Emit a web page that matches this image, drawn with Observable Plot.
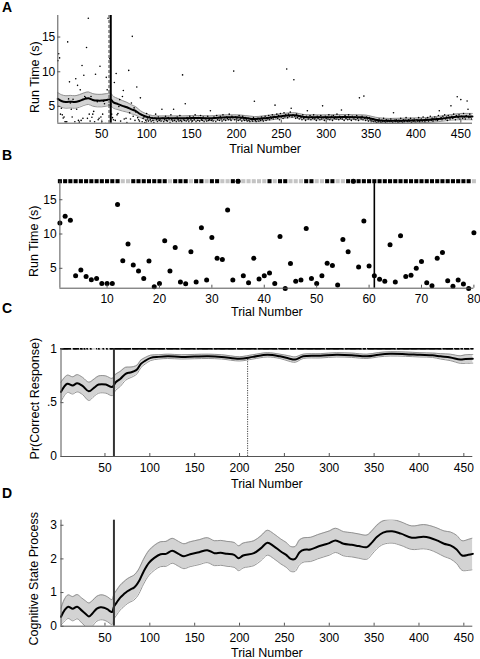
<!DOCTYPE html>
<html><head><meta charset="utf-8">
<script src="https://cdn.jsdelivr.net/npm/d3@7"></script>
<script src="https://cdn.jsdelivr.net/npm/@observablehq/plot@0.6"></script>
<style>
body{margin:0;background:#fff;}
#fig{position:relative;width:480px;height:659px;font-family:"Liberation Sans",Arial,sans-serif;}
.p{position:absolute;left:0;}
.lab{position:absolute;left:2px;font-weight:bold;font-size:14px;line-height:14px;}
</style></head><body>
<div id="fig">
  <div class="p" id="pA" style="top:0"></div>
  <div class="p" id="pB" style="top:160px"></div>
  <div class="p" id="pC" style="top:320px"></div>
  <div class="p" id="pD" style="top:490px"></div>
  <div class="lab" style="top:0">A</div>
  <div class="lab" style="top:148px">B</div>
  <div class="lab" style="top:301px">C</div>
  <div class="lab" style="top:486px">D</div>
</div>
<script>
// ---------- DATA ----------
const xLabel = "Trial Number";
const runLabel = "Run Time (s)";
const prLabel = "Pr(Correct Response)";
const csLabel = "Cognitive State Process";

const trialTicksLong = [50,100,150,200,250,300,350,400,450];
const trialTicksShort = [10,20,30,40,50,60,70,80];
const runTicks = [5,10,15];
const prTicks = [0,0.5,1];
const prTickLabels = ["0",".5","1"];
const csTicks = [0,1,2,3];
const csTickLabels = ["0","1","2","3"];

// run times, trials 1-80 (panel B, also first 80 of panel A)
const runFirst80 = [11.6,12.6,12.0,3.9,4.75,3.8,3.35,3.5,2.8,2.8,
  2.8,14.3,6.1,8.55,5.5,4.6,3.5,6.05,2.3,2.8,
  9.0,4.6,8.05,3.0,2.75,7.4,3.0,10.9,3.3,9.5,
  6.45,6.3,13.5,3.3,17.7,3.9,2.9,6.45,3.45,3.9,
  4.3,2.8,9.65,2.05,5.7,3.1,3.3,10.8,3.5,2.8,
  3.9,5.75,5.4,2.55,9.2,7.4,17.7,5.2,11.9,5.35,
  3.9,3.4,3.1,8.45,3.0,9.75,3.8,4.0,5.0,6.0,
  2.9,2.45,6.45,7.3,3.2,2.4,3.3,2.7,2.05,10.2];
// run times, trials 81-462 (panel A)
const runRest = [4.1,3.2,5.5,15.1,3.6,4.8,3.0,4.2,7.8,3.4,
  3.1,2.9,6.25,3.8,2.8,3.3,3.5,2.7,3.0,4.0,
  3.2,2.9,3.6,3.1,2.8,3.4,3.0,2.7,3.3,3.9,
  3.1,2.8,3.5,3.0,3.2,2.9,4.6,3.3,2.8,3.1,
  3.6,3.0,2.9,3.4,3.2,2.7,3.8,3.1,2.9,4.6,
  3.0,3.3,2.8,3.5,3.1,2.9,3.7,3.0,2.8,9.55,
  3.2,3.0,5.4,2.9,3.4,3.1,2.8,3.6,3.2,3.0,
  2.9,3.5,3.1,3.8,2.8,3.3,3.0,3.4,2.9,3.7,
  3.1,3.0,3.5,2.8,3.3,3.2,2.9,3.6,3.0,3.1,
  4.4,3.0,3.2,2.9,3.5,3.3,2.8,3.7,3.1,3.4,
  3.0,3.6,3.2,2.9,3.8,3.1,3.4,3.0,3.5,3.3,
  3.1,3.9,3.2,3.0,3.6,3.4,10.1,3.1,3.5,3.2,
  3.4,3.0,3.7,3.1,3.3,2.9,3.6,3.2,3.0,3.4,
  3.1,2.9,3.3,3.0,2.8,3.2,3.1,2.9,3.4,5.75,
  3.0,2.8,3.1,3.3,2.9,3.2,3.0,3.5,3.1,2.9,
  3.3,3.6,3.0,3.4,3.2,3.7,3.1,3.5,3.3,3.8,
  3.2,3.6,5.2,3.4,3.9,3.3,3.7,3.1,4.0,3.5,
  3.6,3.3,4.1,3.5,3.8,10.4,3.4,3.9,3.6,4.2,
  4.75,3.5,3.8,8.85,3.6,3.3,3.9,3.4,3.7,3.2,
  3.6,3.4,3.1,3.8,3.3,3.5,3.0,3.6,4.4,3.2,
  3.4,3.7,3.1,3.5,3.3,3.8,3.2,3.4,3.0,3.6,
  3.3,3.5,3.1,3.7,3.2,5.1,3.4,3.0,3.6,3.3,
  3.5,3.2,3.8,3.1,3.4,3.6,3.0,3.7,3.3,3.5,
  3.2,3.9,3.4,3.1,3.6,3.3,4.5,3.2,3.5,3.0,
  3.7,3.3,3.4,3.1,3.8,3.2,3.5,3.0,3.6,3.4,
  3.2,3.5,3.1,3.7,3.3,3.0,6.25,3.4,3.2,3.6,
  3.1,6.5,3.3,3.0,3.5,3.2,2.9,3.4,3.1,3.0,
  2.9,3.2,2.8,3.1,2.9,2.7,3.0,2.8,3.2,2.9,
  2.7,3.0,2.8,3.3,2.9,2.7,3.1,2.8,3.0,2.9,
  2.8,3.2,2.9,2.7,4.1,3.0,2.8,3.1,2.9,2.7,
  3.0,2.8,3.3,2.9,2.7,3.1,2.8,3.0,3.4,2.9,
  2.8,3.1,2.9,3.3,2.7,3.0,2.9,3.2,2.8,3.0,
  3.1,2.9,3.4,2.8,3.0,3.2,2.9,3.5,3.0,2.8,
  3.2,3.0,3.4,2.9,3.1,3.6,3.0,3.3,2.9,3.2,
  3.5,3.1,3.3,3.0,3.7,4.4,3.2,3.4,3.1,3.6,
  3.3,3.8,3.2,3.5,3.0,3.7,3.4,3.2,5.1,3.6,
  3.3,3.9,3.5,3.1,3.7,6.4,3.4,3.8,3.2,6.0,
  3.6,3.3,4.0,3.5,3.2,3.7,5.8,4.6,3.4,3.9,
  3.5,3.2];

// incorrect trials (gray markers)
const incorrectTrials = [13,14,22,26,29,32,33,36,37,38,39,40,42,45,46,47,50,51,54,55,80,
  97,118,134,152,171,197,220,243,256,264,296,317,337,342,375,426,439,446,450,457];

// panel A smoothed run time
const aT = [1,5,10,15,20,25,30,35,40,45,50,55,60,63,68,73,78,83,88,93,98,103,110,120,130,140,150,160,170,180,190,200,210,220,230,240,250,260,265,275,285,300,320,335,345,355,365,380,395,410,425,440,450,463];
const aMean = [6.1,5.8,5.65,5.7,5.65,5.8,6.05,6.2,5.95,5.85,5.85,5.95,6.0,5.6,5.35,5.1,4.9,4.6,4.35,3.9,3.6,3.4,3.3,3.3,3.3,3.3,3.35,3.35,3.3,3.4,3.45,3.45,3.35,3.2,3.3,3.45,3.6,3.75,3.75,3.5,3.45,3.45,3.5,3.45,3.4,3.1,2.95,2.95,3.0,3.05,3.2,3.45,3.55,3.55];
const aHalf = [0.9,0.9,0.9,0.9,0.9,0.9,0.9,0.9,0.9,0.9,0.9,0.9,0.9,0.85,0.8,0.75,0.7,0.65,0.6,0.5,0.45,0.4,0.35,0.35,0.35,0.35,0.35,0.35,0.35,0.35,0.35,0.35,0.35,0.35,0.35,0.35,0.35,0.35,0.35,0.35,0.35,0.35,0.35,0.35,0.35,0.35,0.35,0.35,0.35,0.35,0.38,0.4,0.45,0.45];
const aLines = {dashed: [58], solid: [60]};

// panel B
const bLearn = [61];
const bRowLevel = 17.7;

// panel C probability correct
const cT = [1,8,14,19,25,32,38,43,51,58,62,67,73,78,82,86,90,95,101,110,120,135,150,165,180,200,215,231,245,255,262,271,290,308,325,342,355,368,385,401,415,424,435,446,452,460];
const cMean = [.60,.675,.66,.68,.655,.605,.64,.668,.668,.645,.69,.72,.768,.78,.79,.81,.86,.89,.916,.925,.93,.925,.928,.93,.925,.907,.925,.944,.93,.91,.90,.93,.935,.944,.94,.93,.945,.953,.95,.944,.94,.93,.92,.90,.905,.907];
const cHalf = [.09,.08,.08,.08,.08,.085,.08,.08,.08,.08,.075,.07,.06,.05,.045,.04,.035,.03,.025,.02,.02,.02,.02,.02,.02,.02,.02,.02,.02,.025,.025,.02,.02,.02,.02,.02,.02,.02,.02,.02,.02,.025,.03,.035,.04,.04];
const cLearn = [60];
const cIdeal = [{t: 209, top: 0.9}];
const correctLevel = 1;

// panel D cognitive state
const dT = [1,5,9,14,19,24,28,32,36,41,45,49,53,56,58,60,63,67,71,75,79,82,85,88,93,99,105,112,118,125,132,138,145,155,164,172,179,186,194,199,204,216,224,231,238,246,252,257,262,267,272,279,287,294,300,307,316,325,333,342,348,353,360,370,380,392,405,412,420,428,435,442,448,455,460];
const dMean = [0.28,0.48,0.58,0.52,0.58,0.47,0.38,0.29,0.38,0.52,0.56,0.55,0.50,0.44,0.42,0.58,0.70,0.85,0.95,1.04,1.10,1.14,1.22,1.34,1.62,1.88,2.03,2.14,2.15,2.24,2.15,2.08,2.14,2.20,2.26,2.17,2.18,2.15,2.12,2.02,2.10,2.17,2.32,2.48,2.38,2.22,2.12,2.00,2.00,2.20,2.27,2.28,2.36,2.42,2.47,2.55,2.45,2.42,2.38,2.35,2.50,2.65,2.78,2.82,2.75,2.63,2.66,2.63,2.55,2.45,2.40,2.28,2.10,2.12,2.15];
const dHalf = [0.25,0.33,0.35,0.36,0.36,0.37,0.38,0.4,0.38,0.37,0.37,0.37,0.37,0.37,0.37,0.37,0.37,0.37,0.37,0.37,0.37,0.37,0.37,0.37,0.37,0.37,0.37,0.37,0.37,0.37,0.37,0.37,0.37,0.37,0.37,0.37,0.37,0.37,0.37,0.37,0.37,0.37,0.37,0.37,0.37,0.37,0.37,0.37,0.37,0.37,0.36,0.36,0.36,0.36,0.36,0.36,0.36,0.36,0.36,0.36,0.35,0.35,0.35,0.35,0.35,0.35,0.36,0.36,0.37,0.38,0.4,0.42,0.44,0.46,0.47];
const dLearn = [60];

// ---------- BUILD ----------
const FONT = "'Liberation Sans', Arial, sans-serif";
const style = {background: "transparent", fontFamily: FONT, fontSize: "12px", color: "black", overflow: "visible"};
const AX = "#555";
const BAND_FILL = "#d3d3d3", BAND_EDGE = "#8a8a8a";
const curve = "catmull-rom";

const aRun = runFirst80.concat(runRest).map((v, i) => ({t: i + 1, v}));
const bRun = runFirst80.map((v, i) => ({t: i + 1, v}));
const band = (T, M, H) => T.map((t, i) => ({t, m: M[i], lo: M[i] - H[i], hi: M[i] + H[i]}));
const aBand = band(aT, aMean, aHalf);
const cBand = band(cT, cMean, cHalf);
const dBand = band(dT, dMean, dHalf);
const isWrong = new Set(incorrectTrials);

function bandMarks(data, opts = {}) {
  return [
    Plot.areaY(data, {x: "t", y1: "lo", y2: "hi", fill: BAND_FILL, curve, ...opts}),
    Plot.line(data, {x: "t", y: "lo", stroke: BAND_EDGE, strokeWidth: 0.9, curve, ...opts}),
    Plot.line(data, {x: "t", y: "hi", stroke: BAND_EDGE, strokeWidth: 0.9, curve, ...opts})
  ];
}
function frameMarks(xd, yd, xTicks, yTicks, padX, padY, yLabels) {
  return [
    Plot.ruleY([yd[0]], {stroke: AX, strokeWidth: 1}),
    Plot.ruleX([xd[0]], {stroke: AX, strokeWidth: 1}),
    Plot.axisX({ticks: xTicks, tickSize: -3, tickPadding: padX, stroke: AX, label: null, fontSize: 12, tickFormat: d => String(d)}),
    Plot.axisY({ticks: yTicks, tickSize: -3, tickPadding: padY, stroke: AX, label: null, fontSize: 12,
      tickFormat: yLabels ? (d => yLabels[yTicks.indexOf(d)]) : (d => String(d))})
  ];
}
function labels(xdy, ydx, ydy, ylab) {
  return [
    Plot.text([xLabel], {text: d => d, frameAnchor: "bottom", textAnchor: "middle", dy: xdy, lineAnchor: "middle", fontSize: 12.5}),
    Plot.text([ylab], {text: d => d, frameAnchor: "left", textAnchor: "middle", rotate: -90, dx: ydx, dy: ydy, lineAnchor: "middle", fontSize: 12.5})
  ];
}

// Panel A
const aX = [1, 463], aY = [2.6, 18.1];
document.getElementById("pA").append(Plot.plot({
  width: 480, height: 160, marginLeft: 57.3, marginRight: 8, marginTop: 15, marginBottom: 37.3, style,
  x: {domain: aX}, y: {domain: aY},
  marks: [
    ...bandMarks(aBand),
    Plot.dot(aRun, {x: "t", y: "v", r: 0.8, fill: "black", stroke: null, clip: true}),
    Plot.line(aBand, {x: "t", y: "m", stroke: "black", strokeWidth: 2, curve}),
    Plot.ruleX(aLines.dashed, {stroke: "#8a8a8a", strokeWidth: 1.6, strokeDasharray: "3,2"}),
    Plot.ruleX(aLines.solid, {stroke: "black", strokeWidth: 2}),
    ...frameMarks(aX, aY, trialTicksLong, runTicks, 9, 5.5),
    ...labels(25.6, -22.8, 7.8, runLabel)
  ]
}));

// Panel B
const bX = [1, 80], bY = [2.1, 17.7];
const bRow = d3.range(1, 81).map(t => ({t, wrong: isWrong.has(t)}));
document.getElementById("pB").append(Plot.plot({
  width: 480, height: 160, marginLeft: 59.4, marginRight: 6.6, marginTop: 20.7, marginBottom: 32.3, style,
  x: {domain: bX}, y: {domain: bY},
  marks: [
    Plot.dot(bRow, {x: "t", y: () => bRowLevel, symbol: "square", r: 2.3, fill: d => d.wrong ? "#c4c4c4" : "black", stroke: null}),
    Plot.ruleX(bLearn, {y1: bY[0], y2: bRowLevel, stroke: "black", strokeWidth: 1.6}),
    Plot.dot(bRun, {x: "t", y: "v", r: 2.5, fill: "black", stroke: null}),
    ...frameMarks(bX, bY, trialTicksShort, runTicks, 9.3, 6.3),
    ...labels(23.3, -26.2, 6.6, runLabel)
  ]
}));

// Panel C
const cX = [1, 460], cY = [0, 1];
const cRow = d3.range(1, 461).map(t => ({t, wrong: isWrong.has(t)}));
document.getElementById("pC").append(Plot.plot({
  width: 480, height: 170, marginLeft: 60.5, marginRight: 7.7, marginTop: 28.3, marginBottom: 34, style,
  x: {domain: cX}, y: {domain: cY},
  marks: [
    ...bandMarks(cBand),
    Plot.line(cBand, {x: "t", y: "m", stroke: "black", strokeWidth: 2, curve}),
    Plot.dot(cRow, {x: "t", y: () => correctLevel, symbol: "square", r: 0.9, fill: d => d.wrong ? "#d0d0d0" : "black", stroke: null}),
    Plot.ruleX(cLearn, {y1: cY[0], y2: cY[1], stroke: "#333", strokeWidth: 2}),
    Plot.ruleX(cIdeal, {x: "t", y1: cY[0], y2: "top", stroke: "#444", strokeWidth: 1, strokeDasharray: "1.2,1.2"}),
    ...frameMarks(cX, cY, trialTicksLong, prTicks, 10.2, 7, prTickLabels),
    ...labels(27.3, -26.5, -4, prLabel)
  ]
}));

// Panel D
const dX = [1, 460], dY = [0, 3.15];
document.getElementById("pD").append(Plot.plot({
  width: 480, height: 169, marginLeft: 60.5, marginRight: 7.7, marginTop: 29.7, marginBottom: 33.3, style,
  x: {domain: dX}, y: {domain: dY},
  marks: [
    ...bandMarks(dBand, {clip: true}),
    Plot.line(dBand, {x: "t", y: "m", stroke: "black", strokeWidth: 2, curve}),
    Plot.ruleX(dLearn, {stroke: "#333", strokeWidth: 2}),
    ...frameMarks(dX, dY, trialTicksLong, csTicks, 10.5, 7, csTickLabels),
    ...labels(26.8, -26.9, 5.6, csLabel)
  ]
}));
</script>
</body></html>
